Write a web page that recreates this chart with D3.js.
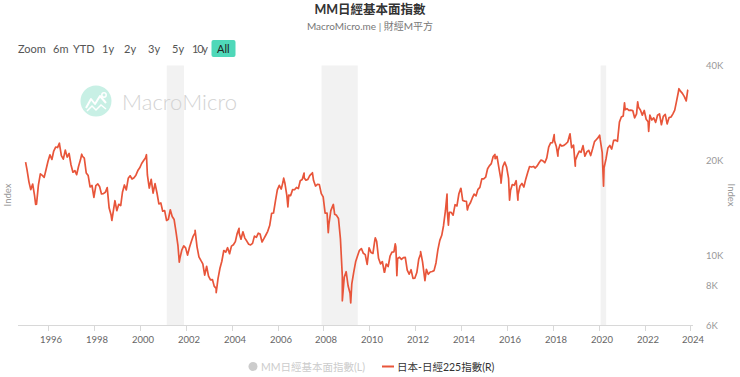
<!DOCTYPE html>
<html><head><meta charset="utf-8">
<script src="https://cdn.jsdelivr.net/npm/d3@7/dist/d3.min.js"></script>
<style>
html,body{margin:0;padding:0;background:#fff;}
svg{font-family:Lato,"Noto Sans CJK TC","Noto Sans",sans-serif;}
</style></head>
<body><svg id="c" width="740" height="377"></svg>
<script>
// ---- DATA ----
const monthYears = d3.range(1995, 2024);
const monthlyCloses = [
 [18650,17053,16140,16807,15437,14517,16678,18117,17913,17655,18744,19868],
 [20813,20125,21407,22041,21956,22531,20693,20167,21556,20467,21020,19361],
 [18330,18557,18003,19151,20069,20605,20331,18229,17888,16459,16636,15259],
 [16628,16831,16527,15641,15671,15831,16379,14108,13406,13564,14884,13842],
 [14500,14368,15837,16702,16112,17530,17862,17437,17605,17942,18558,18934],
 [19540,19960,20337,17974,16332,17411,15727,16861,15747,14539,14649,13786],
 [13843,12884,12999,13934,13262,12969,11860,10713,9775,10366,10697,10543],
 [9998,10588,11025,11493,11764,10622,9878,9619,9383,8640,9216,8579],
 [8340,8363,7973,7831,8425,9083,9563,10344,10219,10560,10101,10677],
 [10784,11042,11715,11762,11236,11858,11326,11082,10824,10771,10899,11489],
 [11388,11741,11669,11009,11277,11584,11900,12414,13574,13607,14873,16111],
 [16650,16205,17060,16906,15467,15505,15457,16141,16128,16399,16274,17226],
 [17383,17604,17288,17400,17876,18138,17249,16569,16786,16738,15681,15308],
 [13592,13604,12526,13850,14339,13481,13377,13073,11260,8577,8512,8860],
 [7994,7568,8110,8828,9523,9958,10357,10493,10133,10035,9346,10546],
 [10198,10126,11090,11057,9769,9383,9537,8824,9369,9202,9937,10229],
 [10238,10624,9755,9850,9694,9816,9833,8955,8700,8988,8435,8455],
 [8803,9723,10083,9521,8543,9007,8695,8840,8870,8928,9446,10395],
 [11139,11559,12398,13861,13775,13677,13668,13389,14456,14328,15662,16291],
 [14915,14841,14828,14304,14632,15162,15621,15425,16174,16414,17460,17451],
 [17674,18798,19207,19520,20563,20236,20585,18890,17388,19083,19747,19034],
 [17518,16027,16759,16666,17235,15576,16569,16887,16450,17425,18308,19114],
 [19041,19119,18909,19197,19651,20033,19925,19646,20356,22012,22725,22765],
 [23098,22068,21454,22468,22202,22305,22554,22865,24120,21920,22351,20015],
 [20773,21385,21206,22259,20601,21276,21522,20704,21756,22927,23294,23657],
 [23205,21143,18917,20194,21878,22288,21710,23140,23185,22977,26434,27444],
 [27663,28966,29179,28813,28860,28792,27284,28090,29453,28893,27822,28792],
 [27002,26527,27821,26848,27280,26393,27802,28092,25937,27587,27969,26095],
 [27327,27446,28041,28856,30888,33189,33172,32619,31858,30859,33487]
];
const extremeDates = ["1995-01-04","1995-06-13","1996-06-26","1997-06-16","1998-10-09","2000-04-12","2001-09-17","2002-05-27","2003-04-28","2004-04-26","2006-04-07","2006-06-13","2007-02-26","2007-07-09","2008-03-17","2008-06-06","2008-10-27","2009-03-10","2010-04-05","2010-08-31","2011-02-17","2011-03-15","2012-03-27","2012-06-04","2013-05-22","2013-06-13","2013-12-30","2014-04-11","2015-06-24","2015-09-29","2016-02-12","2016-06-24","2018-01-23","2018-03-23","2018-10-02","2018-12-25","2020-01-17","2020-03-19","2021-02-16","2021-09-14","2022-03-08","2023-07-03","2023-11-20"];
const extremeValues = [19724,14485,22666,20910,12880,20833,9504,11979,7607,12163,17563,14219,18215,18261,11787,14489,7162,7054,11339,8824,10857,8605,10255,8295,15627,12445,16291,13910,20868,16930,14952,14952,24124,20617,24270,19155,24041,16552,30467,30670,24717,33753,33388];
const recessionStarts = ["2001-03-01","2007-12-01","2020-02-01"];
const recessionEnds = ["2001-11-30","2009-06-30","2020-04-30"];
const yTicks = [6000,8000,10000,20000,40000];
const yTickLabels = ["6K","8K","10K","20K","40K"];
const xTickYears = d3.range(1996, 2025, 2);
const rangeButtons = ["Zoom","6m","YTD","1y","2y","3y","5y","10y","All"];
const titleText = "MM日經基本面指數";
const subtitleText = "MacroMicro.me | 財經M平方";
const legendLabels = ["MM日經基本面指數(L)","日本-日經225指數(R)"];

// ---- BUILD ----
const parse = d3.timeParse("%Y-%m-%d");
let pts = [];
monthlyCloses.forEach((arr,i)=>arr.forEach((v,m)=>{
  pts.push({d:new Date(monthYears[i], m, 27), v:v});
}));
extremeDates.forEach((s,i)=>pts.push({d:parse(s), v:extremeValues[i]}));
pts.sort((a,b)=>a.d-b.d);

const svg = d3.select("#c");
const L = 18, R = 693, T = 65.5, B = 325;
const x = d3.scaleTime().domain([new Date(1994,8,5), new Date(2024,1,12)]).range([L,R]);
const y = d3.scaleLog().domain([6000,40000]).range([B,T]);

// recession shading
svg.append("g").selectAll("rect").data(recessionStarts).join("rect")
  .attr("x",(d)=>x(parse(d)))
  .attr("width",(d,i)=>x(parse(recessionEnds[i]))-x(parse(d)))
  .attr("y",T).attr("height",B-T).attr("fill","#f2f2f2");

// watermark
const wm = svg.append("g");
wm.append("circle").attr("cx",96).attr("cy",101).attr("r",15.5).attr("fill","#c8f0e5");
wm.append("path").attr("d","M86,108 L91,99 L95,104 L100,96 L106,103").attr("fill","none").attr("stroke","#fff").attr("stroke-width",2).attr("stroke-linejoin","round");
wm.append("path").attr("d","M87,111 L92,106 L96,110 L101,105 L106,109").attr("fill","none").attr("stroke","#fff").attr("stroke-width",1.5);
wm.append("circle").attr("cx",104).attr("cy",95).attr("r",2.2).attr("fill","none").attr("stroke","#fff").attr("stroke-width",1.5);
wm.append("text").attr("x",122).attr("y",110).attr("font-size",22).attr("font-weight",300).attr("fill","#d2d2d2")
  .attr("textLength",115).text("MacroMicro");

// x axis
const xa = svg.append("g");
xa.append("line").attr("x1",L).attr("x2",R).attr("y1",B+0.5).attr("y2",B+0.5).attr("stroke","#d8d8d8");
xTickYears.forEach(yr=>{
  const px = Math.round(x(new Date(yr,0,1)))+0.5;
  xa.append("line").attr("x1",px).attr("x2",px).attr("y1",B).attr("y2",B+6).attr("stroke","#d8d8d8");
  xa.append("text").attr("x",px+2.5).attr("y",343).attr("text-anchor","middle").attr("font-size",9.5).attr("fill","#666").text(yr);
});

// right axis
yTicks.forEach((t,i)=>{
  svg.append("text").attr("x",706).attr("y",y(t)+3.5).attr("font-size",9.5).attr("fill","#999").text(yTickLabels[i]);
});
svg.append("text").attr("transform","translate(728,195) rotate(90)").attr("text-anchor","middle").attr("font-size",9.5).attr("fill","#999").text("Index");
svg.append("text").attr("transform","translate(11,195) rotate(-90)").attr("text-anchor","middle").attr("font-size",9.5).attr("fill","#999").text("Index");

// line
const line = d3.line().x(d=>x(d.d)).y(d=>y(d.v));
svg.append("path").datum(pts).attr("d",line).attr("fill","none").attr("stroke","#e8553a").attr("stroke-width",1.7).attr("stroke-linejoin","round");

// title
svg.append("text").attr("x",370).attr("y",14).attr("text-anchor","middle").attr("font-size",12.5).attr("font-weight","bold").attr("fill","#333").text(titleText);
svg.append("text").attr("x",370).attr("y",30).attr("text-anchor","middle").attr("font-size",10).attr("fill","#777").text(subtitleText);

// range buttons
const bx = [18,53,73,102,124,148,172,192,217];
svg.append("rect").attr("x",211.5).attr("y",40).attr("width",24).attr("height",17).attr("rx",2).attr("fill","#4fd8b9");
rangeButtons.forEach((b,i)=>{
  svg.append("text").attr("x",bx[i]).attr("y",52.5).attr("font-size",11).attr("fill",i===8?"#222":"#555")
    .attr("textLength", i===7?16:null).text(b);
});

// legend
svg.append("circle").attr("cx",253).attr("cy",366.5).attr("r",4.5).attr("fill","#ccc");
svg.append("text").attr("x",261).attr("y",370.5).attr("font-size",10.5).attr("fill","#ccc").text(legendLabels[0]);
svg.append("line").attr("x1",382).attr("x2",394).attr("y1",366.5).attr("y2",366.5).attr("stroke","#e8553a").attr("stroke-width",2);
svg.append("text").attr("x",397).attr("y",370.5).attr("font-size",10.5).attr("fill","#333").text(legendLabels[1]);
</script></body></html>
